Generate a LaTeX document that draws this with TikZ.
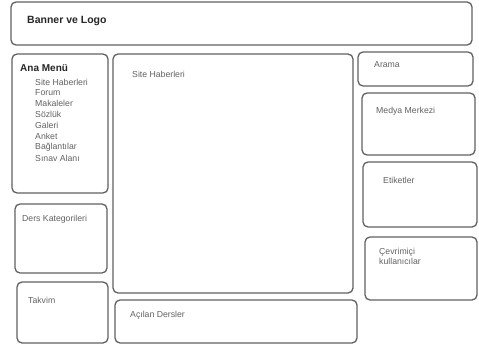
\documentclass[tikz,border=0pt]{standalone}
\usepackage{fontspec}
\setmainfont{Liberation Sans}
\begin{document}
\begin{tikzpicture}[x=1pt,y=-1pt,
  box/.style={draw=black!62,line width=1.3pt,rounded corners=5pt,anchor=north west,inner sep=0pt,outer sep=0pt},
  lbl/.style={anchor=west,inner sep=0pt,font=\fontsize{8.7}{10}\selectfont,text=black!62},
  ttl/.style={anchor=west,inner sep=0pt,font=\fontsize{10.5}{12}\selectfont\bfseries,text=black!85}]
\useasboundingbox (0,0) rectangle (479,345);
% boxes
\node[box,minimum width=461pt,minimum height=43pt] (banner) at (11,2) {};
\node[box,minimum width=96pt,minimum height=139pt] (menu) at (12,54) {};
\node[box,minimum width=92pt,minimum height=69pt] (ders) at (15,204) {};
\node[box,minimum width=91pt,minimum height=61pt] (takvim) at (17,282) {};
\node[box,minimum width=240pt,minimum height=239pt] (haber) at (113,54) {};
\node[box,minimum width=242pt,minimum height=43pt] (acilan) at (115,300) {};
\node[box,minimum width=115pt,minimum height=34pt] (arama) at (358,52) {};
\node[box,minimum width=113pt,minimum height=62pt] (medya) at (362,93) {};
\node[box,minimum width=114pt,minimum height=65pt] (etiket) at (363,162) {};
\node[box,minimum width=112pt,minimum height=63pt] (cevrim) at (365,237) {};
% texts
\node[ttl] (tbanner) at (27,21) {Banner ve Logo};
\node[ttl,font=\fontsize{10}{12}\selectfont\bfseries] (tmenu) at (20,68) {Ana Menü};
\node[lbl] (m1) at (35,82) {Site Haberleri};
\node[lbl] (m2) at (35,92.9) {Forum};
\node[lbl] (m3) at (35,103.7) {Makaleler};
\node[lbl] (m4) at (35,114.6) {Sözlük};
\node[lbl] (m5) at (35,125.4) {Galeri};
\node[lbl] (m6) at (35,136.3) {Anket};
\node[lbl] (m7) at (35,147.1) {Bağlantılar};
\node[lbl] (m8) at (35,158) {Sınav Alanı};
\node[lbl] (tders) at (22,219) {Ders Kategorileri};
\node[lbl] (ttakvim) at (28,300) {Takvim};
\node[lbl] (thaber) at (132,74) {Site Haberleri};
\node[lbl] (tacilan) at (130,315) {Açılan Dersler};
\node[lbl] (tarama) at (374,65) {Arama};
\node[lbl] (tmedya) at (376,111) {Medya Merkezi};
\node[lbl] (tetiket) at (383,180) {Etiketler};
\node[lbl,align=left,anchor=north west] (tcevrim) at (379,248) {Çevrimiçi\\kullanıcılar};
\end{tikzpicture}
\end{document}
